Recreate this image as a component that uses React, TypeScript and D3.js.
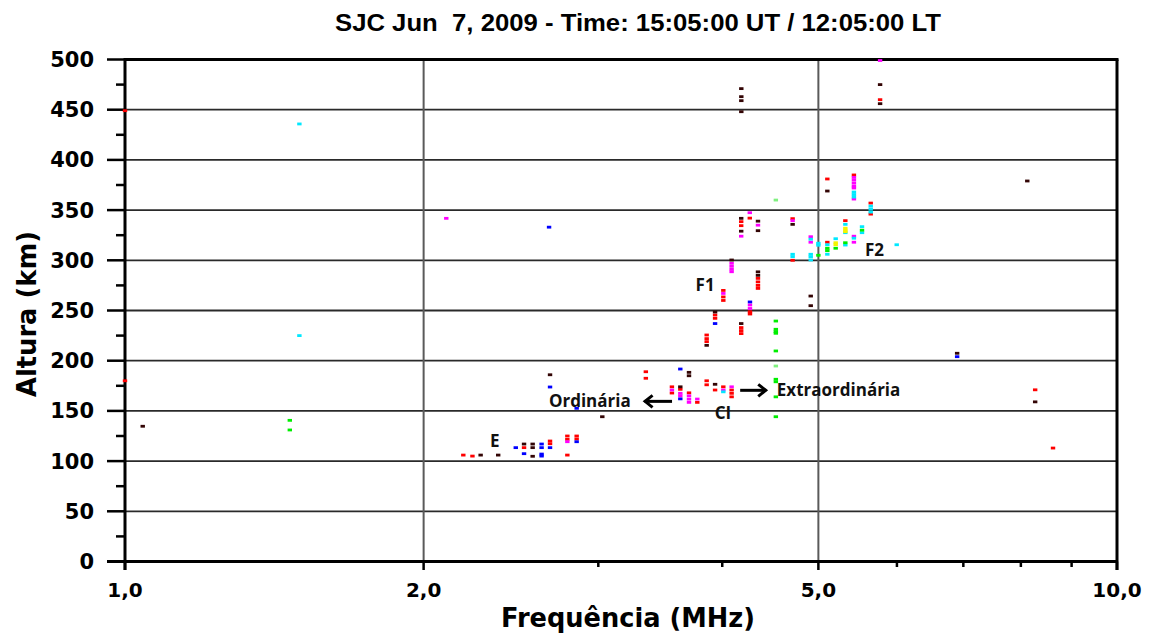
import React from "react";
import * as d3 from "d3";

// ---- Data (frequency MHz, virtual height km) ----
const redEchoes: [number, number][] = [
  [1.0, 449], [1.0, 180],
  [5.105, 381], [5.77, 460], [5.43, 385], [5.646, 357], [5.646, 346],
  [4.18, 338.5], [4.18, 334.5], [4.264, 342], [4.71, 341.5], [4.71, 300],
  [5.105, 318], [5.323, 339.5],
  [4.346, 282], [4.346, 278.5], [4.346, 275], [4.346, 272],
  [4.01, 270], [4.01, 263.5], [4.01, 260],
  [4.266, 248.8], [4.266, 246.5], [3.934, 245.5], [3.934, 242.2],
  [4.18, 233], [4.18, 230], [4.18, 227],
  [3.858, 225.6], [3.858, 222], [3.858, 219],
  [3.35, 189], [3.35, 182.5], [3.559, 174], [3.559, 167.8], [3.629, 171.5],
  [3.703, 168], [3.775, 158.5], [3.858, 180], [3.858, 176], [3.934, 170.8],
  [4.01, 174], [4.088, 170.8], [4.088, 167.5], [4.088, 164],
  [2.193, 106], [2.24, 105], [2.525, 113.4], [2.682, 120], [2.682, 117.3],
  [2.792, 125], [2.792, 121.7], [2.792, 106], [2.853, 125], [2.853, 122],
  [8.27, 171], [8.62, 113],
];
const blackEchoes: [number, number][] = [
  [1.042, 134.7],
  [4.181, 471], [4.181, 463], [4.181, 459], [4.181, 448],
  [5.77, 475], [5.77, 456], [5.105, 369],
  [4.18, 341.8], [4.18, 329], [4.346, 339], [4.346, 329.5], [4.71, 335.8],
  [4.088, 300.3], [4.346, 288.5], [4.346, 285], [4.912, 264.4], [4.912, 254.8],
  [3.934, 248.5], [4.18, 237], [3.858, 215.3], [3.703, 188.4], [3.703, 185],
  [3.629, 174], [3.934, 176.5], [2.682, 186], [3.028, 144.2],
  [2.283, 106], [2.378, 106], [2.525, 117], [2.576, 117], [2.576, 113.4], [2.576, 104.8],
  [6.9, 207.4], [8.12, 379], [8.27, 159],
];
const blueEchoes: [number, number][] = [
  [2.676, 333], [4.266, 258.5], [3.934, 237], [3.629, 191.7], [3.629, 162],
  [2.682, 173.8], [2.682, 113.4], [2.853, 152.6], [2.853, 119.3], [2.477, 113.4],
  [2.525, 107.4], [2.63, 117], [2.63, 113.4], [2.63, 107], [2.63, 105], [6.9, 204],
];
const magentaEchoes: [number, number][] = [
  [2.108, 341.8], [5.77, 499],
  [5.43, 382.6], [5.43, 380], [5.43, 377], [5.43, 374], [5.43, 372], [5.43, 361],
  [4.264, 347.4], [4.18, 324], [4.346, 335], [4.71, 339.5], [4.912, 323.5], [4.912, 318],
  [5.43, 324], [5.43, 318],
  [4.088, 297], [4.088, 294], [4.088, 291], [4.088, 288.6], [4.01, 267],
  [4.266, 255.5], [4.266, 252],
  [3.559, 170.8], [3.629, 167.5], [3.629, 165], [3.703, 165], [3.703, 161.7], [3.703, 158.5],
  [3.775, 161.8], [4.01, 170.8], [4.088, 174], [2.792, 119.3],
];
const cyanEchoes: [number, number][] = [
  [1.499, 435.8], [1.499, 225],
  [5.43, 368], [5.43, 365.5], [5.43, 363], [5.646, 354], [5.646, 351], [5.646, 348],
  [4.71, 306], [4.71, 303.6], [4.912, 321], [4.912, 306], [4.912, 303.6], [4.912, 300.3],
  [5.0, 317], [5.0, 315], [5.105, 315.5], [5.105, 306], [5.205, 321.5],
  [5.323, 335.8], [5.323, 327.5], [5.323, 315.2], [5.43, 322],
  [5.533, 333.5], [5.533, 327.5], [5.997, 315.5], [4.01, 169],
];
const greenEchoes: [number, number][] = [
  [1.466, 140.6], [1.466, 131],
  [4.53, 239.5], [4.53, 231.3], [4.53, 229], [4.53, 227.3], [4.53, 209.7],
  [4.53, 181.5], [4.53, 179], [4.53, 164], [4.53, 144.2],
  [5.0, 305], [5.105, 312], [5.105, 309.6], [5.205, 312], [5.323, 317.5], [5.533, 330],
];
const lightGreenEchoes: [number, number][] = [[4.53, 360], [4.53, 194.7]];
const yellowEchoes: [number, number][] = [
  [5.205, 317.5], [5.205, 315.5], [5.323, 332], [5.323, 330], [5.323, 328.5],
];

const echoSeries = [
  { name: "red", color: "#ff0000", pts: redEchoes },
  { name: "magenta", color: "#ff00ff", pts: magentaEchoes },
  { name: "cyan", color: "#00e8ff", pts: cyanEchoes },
  { name: "green", color: "#00ee00", pts: greenEchoes },
  { name: "lightgreen", color: "#80f080", pts: lightGreenEchoes },
  { name: "yellow", color: "#f4f400", pts: yellowEchoes },
  { name: "blue", color: "#0000ff", pts: blueEchoes },
  { name: "black", color: "#330505", pts: blackEchoes },
];

const xMajorTicks = [1, 2, 5, 10];
const xTickLabels = ["1,0", "2,0", "5,0", "10,0"];
const xMinorTicks = [3, 4, 6, 7, 8, 9];
const yMajorTicks = d3.range(0, 501, 50);
const yMinorTicks = d3.range(25, 500, 50);

const annotations = [
  { text: "F1", f: 3.76, h: 269 },
  { text: "F2", f: 5.57, h: 304 },
  { text: "E", f: 2.333, h: 114 },
  { text: "CI", f: 3.93, h: 142 },
  { text: "Ordinária", f: 2.675, h: 153.5 },
  { text: "Extraordinária", f: 4.54, h: 164.5 },
];

const TITLE = "SJC Jun  7, 2009 - Time: 15:05:00 UT / 12:05:00 LT";

export default function App() {
  const L = 125, R = 1117, T = 59.5, B = 561.5;
  const x = d3.scaleLog().domain([1, 10]).range([L, R]);
  const y = d3.scaleLinear().domain([0, 500]).range([B, T]);
  const bold = "'DejaVu Sans', Verdana, sans-serif";
  const annFont = "'Open Sans', sans-serif";

  return (
    <svg width={1149} height={635} style={{ position: "absolute", left: 0, top: 0, background: "#fff" }}>
      <rect x={0} y={0} width={1149} height={635} fill="#fff" />
      <text x={638} y={31} textAnchor="middle" fontFamily="'Liberation Sans', Arial, sans-serif" fontWeight="bold" fontSize={23}
        textLength={606} lengthAdjust="spacingAndGlyphs" style={{ whiteSpace: "pre" }}>{TITLE}</text>

      {/* horizontal gridlines */}
      {d3.range(50, 500, 50).map((v) => (
        <line key={"hg" + v} x1={L} x2={R} y1={y(v)} y2={y(v)} stroke="#2a2a2a" strokeWidth={1.8} />
      ))}
      {/* vertical gridlines */}
      {[2, 5].map((v) => (
        <line key={"vg" + v} x1={x(v)} x2={x(v)} y1={T} y2={B} stroke="#5a5a5a" strokeWidth={2} />
      ))}

      {/* borders / axes */}
      <line x1={L} x2={R + 1.5} y1={T} y2={T} stroke="#000" strokeWidth={3} />
      <line x1={R} x2={R} y1={T} y2={570} stroke="#000" strokeWidth={3} />
      <line x1={L} x2={L} y1={T - 1.5} y2={570} stroke="#000" strokeWidth={3} />
      <line x1={107} x2={R} y1={B} y2={B} stroke="#000" strokeWidth={3} />

      {yMajorTicks.map((v) => (
        <g key={"ym" + v}>
          <line x1={107} x2={L} y1={y(v)} y2={y(v)} stroke="#000" strokeWidth={2.5} />
          <text x={94} y={y(v) + 7.5} textAnchor="end" fontFamily={bold} fontWeight="bold" fontSize={21}>{v}</text>
        </g>
      ))}
      {yMinorTicks.map((v) => (
        <line key={"yn" + v} x1={116} x2={L} y1={y(v)} y2={y(v)} stroke="#000" strokeWidth={2.5} />
      ))}
      {xMajorTicks.map((v, i) => (
        <g key={"xm" + v}>
          <line x1={x(v)} x2={x(v)} y1={B} y2={570} stroke="#000" strokeWidth={2.5} />
          <text x={x(v)} y={597} textAnchor="middle" fontFamily={bold} fontWeight="bold" fontSize={20}>{xTickLabels[i]}</text>
        </g>
      ))}
      {xMinorTicks.map((v) => (
        <line key={"xn" + v} x1={x(v)} x2={x(v)} y1={B} y2={567} stroke="#000" strokeWidth={2.5} />
      ))}

      {/* echoes */}
      {echoSeries.map((s) => (
        <g key={s.name}>
          {s.pts.map(([f, h], i) => (
            <rect key={i} x={x(f) - 2.2} y={y(h) - 1.4} width={4.4} height={2.8} fill={s.color} />
          ))}
        </g>
      ))}

      <text x={628} y={627} textAnchor="middle" fontFamily={bold} fontWeight="bold" fontSize={26}
        textLength={254} lengthAdjust="spacingAndGlyphs">Frequência (MHz)</text>
      <text transform="translate(36,314) rotate(-90)" textAnchor="middle" fontFamily={bold} fontWeight="bold" fontSize={26}
        textLength={166} lengthAdjust="spacingAndGlyphs">Altura (km)</text>

      {/* annotations */}
      {annotations.map((a) => (
        <text key={a.text} x={x(a.f)} y={y(a.h)} fontFamily={annFont} fontWeight="bold" fontSize={17}
          fill="#111">{a.text}</text>
      ))}
      {/* arrows */}
      <g stroke="#000" strokeWidth={3} fill="none">
        <line x1={x(3.56)} x2={x(3.34)} y1={y(159.5)} y2={y(159.5)} />
        <polyline points={`${x(3.34) + 8},${y(159.5) - 6} ${x(3.34) + 0.5},${y(159.5)} ${x(3.34) + 8},${y(159.5) + 6}`} />
        <line x1={x(4.17)} x2={x(4.43)} y1={y(170.5)} y2={y(170.5)} />
        <polyline points={`${x(4.43) - 8},${y(170.5) - 6} ${x(4.43) - 0.5},${y(170.5)} ${x(4.43) - 8},${y(170.5) + 6}`} />
      </g>
    </svg>
  );
}
